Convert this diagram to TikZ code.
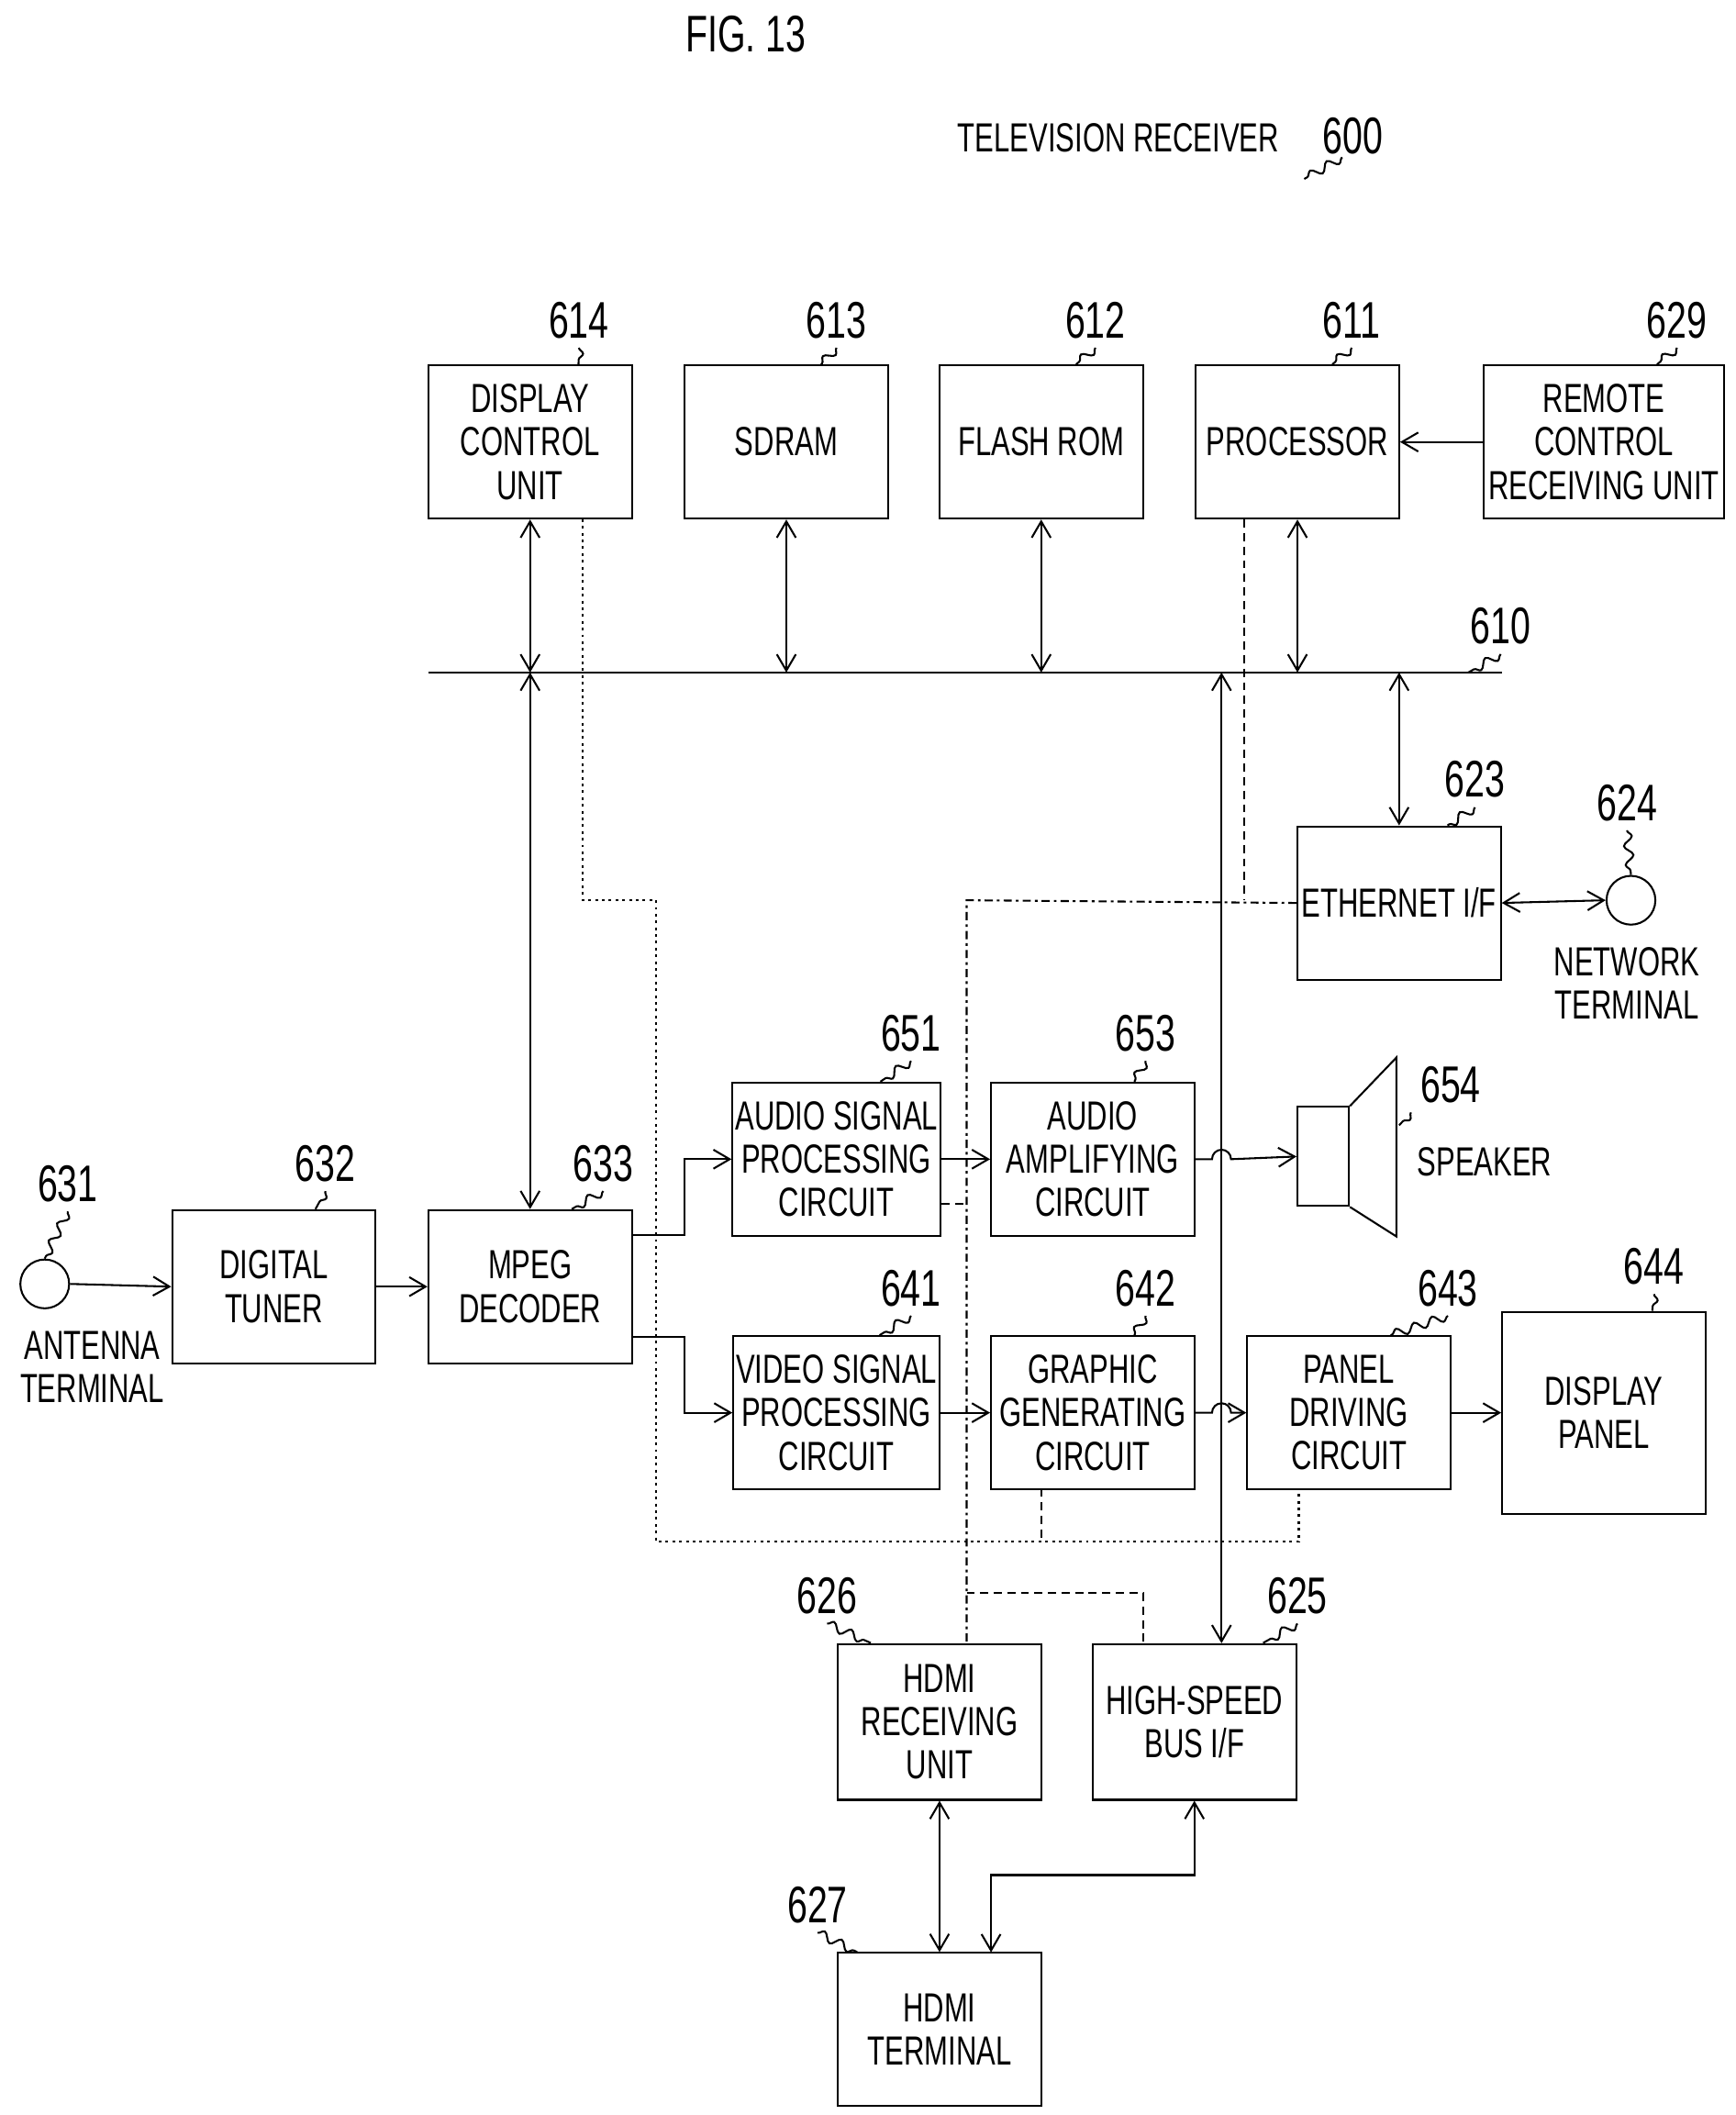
\documentclass[tikz,border=0pt]{standalone}
\usepackage{fontspec}
\setmainfont{Liberation Sans}[FakeStretch=0.7]
\usetikzlibrary{arrows.meta,decorations.pathmorphing,calc}
\begin{document}
\begin{tikzpicture}[x=0.5pt,y=-0.5pt,
  box/.style={draw,line width=0.7pt,minimum width=75pt,minimum height=56.5pt,align=center,inner sep=1pt,font=\fontsize{15}{16}\selectfont},
  num/.style={font=\fontsize{19}{19}\selectfont},
  lab/.style={font=\fontsize{15}{16}\selectfont,align=center},
  ln/.style={line width=0.7pt},
  arr/.style={ln,-{Straight Barb[length=6pt,width=7pt]}},
  darr/.style={ln,{Straight Barb[length=6pt,width=7pt]}-{Straight Barb[length=6pt,width=7pt]}},
  ctl/.style={ln,dashed,dash pattern=on 3pt off 2pt},
  dot/.style={ln,dash pattern=on 1pt off 1.5pt},
  dd/.style={ln,dash pattern=on 3pt off 1.5pt on 1pt off 1.5pt},
  sq/.style={ln,decorate,decoration={snake,amplitude=1.6pt,segment length=7pt}}]
\useasboundingbox (0,0) rectangle (1280,1560);
\node[num] (fig) at (550,25) {FIG. 13};
\node[lab] (tv) at (825,102) {TELEVISION RECEIVER};
\node[num] (n600) at (998,100) {600};
\coordinate (s600) at (962,132);
\draw[sq] (990,116) -- (s600);

% top row
\node[box] (b614) at (391,326) {DISPLAY\\CONTROL\\UNIT};
\node[box] (b613) at (580,326) {SDRAM};
\node[box] (b612) at (768,326) {FLASH ROM};
\node[box] (b611) at (957,326) {PROCESSOR};
\node[box,minimum width=88.5pt] (b629) at (1183,326) {REMOTE\\CONTROL\\RECEIVING UNIT};
\node[num] (n614) at (427,236) {614};
\node[num] (n613) at (617,236) {613};
\node[num] (n612) at (808,236) {612};
\node[num] (n611) at (997,236) {611};
\node[num] (n629) at (1237,236) {629};
\draw[sq] (n614.south) -- ($(b614.north east)+(-40,0)$);
\draw[sq] (n613.south) -- ($(b613.north east)+(-50,0)$);
\draw[sq] (n612.south) -- ($(b612.north east)+(-50,0)$);
\draw[sq] (n611.south) -- ($(b611.north east)+(-50,0)$);
\draw[sq] (n629.south) -- ($(b629.north east)+(-50,0)$);

% bus
\coordinate (busL) at (316,496);
\coordinate (busR) at (1108,496);
\draw[ln] (busL) -- (busR);
\node[num] (n610) at (1107,462) {610};
\draw[sq] (n610.south) -- ($(busR)+(-25,0)$);

\draw[darr] (b614.south) -- (b614.south |- busL);
\draw[darr] (b613.south) -- (b613.south |- busL);
\draw[darr] (b612.south) -- (b612.south |- busL);
\draw[darr] (b611.south) -- (b611.south |- busL);
\draw[arr] (b629.west) -- (b611.east);

% ethernet
\node[box] (b623) at (1032,666) {ETHERNET I/F};
\node[num] (n623) at (1088,575) {623};
\draw[sq] (n623.south) -- ($(b623.north east)+(-40,0)$);
\draw[darr] (b623.north) -- (b623.north |- busL);
\node[draw,circle,ln,minimum size=18pt,inner sep=0] (c624) at (1203,664) {};
\node[num] (n624) at (1200,592) {624};
\draw[sq] (n624.south) -- (c624.north);
\node[lab] (t624) at (1200,725) {NETWORK\\TERMINAL};
\draw[darr] (b623.east) -- (c624.west);

% speaker
\node[draw,ln,minimum width=19pt,minimum height=36.5pt,inner sep=0] (spk) at (976,853) {};
\coordinate (spk1) at (1030,780);
\coordinate (spk2) at (1030,912);
\draw[ln] (spk.north east) -- (spk1) -- (spk2) -- (spk.south east);
\node[num] (n654) at (1070,800) {654};
\draw[sq] (n654.south west) -- (1032,830);
\node[lab] (t654) at (1095,857) {SPEAKER};

% middle boxes
\node[box] (b651) at (617,855) {AUDIO SIGNAL\\PROCESSING\\CIRCUIT};
\node[box] (b653) at (806,855) {AUDIO\\AMPLIFYING\\CIRCUIT};
\node[box] (b641) at (617,1042) {VIDEO SIGNAL\\PROCESSING\\CIRCUIT};
\node[box] (b642) at (806,1042) {GRAPHIC\\GENERATING\\CIRCUIT};
\node[box] (b643) at (995,1042) {PANEL\\DRIVING\\CIRCUIT};
\node[box,minimum height=74.5pt] (b644) at (1183,1042) {DISPLAY\\PANEL};
\node[box] (b633) at (391,949) {MPEG\\DECODER};
\node[box] (b632) at (202,949) {DIGITAL\\TUNER};
\node[draw,circle,ln,minimum size=18pt,inner sep=0] (c631) at (33,947) {};
\node[lab] (t631) at (68,1008) {ANTENNA\\TERMINAL};
\node[num] (n631) at (50,873) {631};
\draw[sq] (n631.south) -- (c631.north);
\node[num] (n632) at (240,858) {632};
\node[num] (n633) at (445,858) {633};
\node[num] (n651) at (672,762) {651};
\node[num] (n653) at (845,762) {653};
\node[num] (n641) at (672,950) {641};
\node[num] (n642) at (845,950) {642};
\node[num] (n643) at (1068,950) {643};
\node[num] (n644) at (1220,934) {644};
\foreach \n/\b in {632/b632,633/b633,651/b651,653/b653,641/b641,642/b642,643/b643}
  \draw[sq] (n\n.south) -- ($(\b.north east)+(-45,0)$);
\draw[sq] (n644.south) -- ($(b644.north east)+(-40,0)$);

\draw[arr] (c631.east) -- (b632.west);
\draw[arr] (b632.east) -- (b633.west);
\draw[darr] (busL -| b633.north) -- (b633.north);
\coordinate (m1) at (505,911);
\coordinate (m2) at (505,986);
\draw[arr] (b633.east |- m1) -- (m1) |- (b651.west);
\draw[arr] (b633.east |- m2) -- (m2) |- (b641.west);
\draw[arr] (b651.east) -- (b653.west);
\draw[arr] (b641.east) -- (b642.west);
\draw[arr] (b653.east) -- (894,855) arc (180:360:7) -- (spk.west);
\draw[arr] (b642.east) -- (894,1042) arc (180:360:7) -- (b643.west);
\draw[arr] (b643.east) -- (b644.west);

% HDMI
\node[box,minimum height=57.5pt] (b626) at (693,1270) {HDMI\\RECEIVING\\UNIT};
\node[box,minimum height=57.5pt] (b625) at (881,1270) {HIGH-SPEED\\BUS I/F};
\node[box] (b627) at (693,1497) {HDMI\\TERMINAL};
\node[num] (n626) at (610,1177) {626};
\node[num] (n625) at (957,1177) {625};
\node[num] (n627) at (603,1405) {627};
\draw[sq] (n626.south) -- ($(b626.north west)+(25,0)$);
\draw[sq] (n625.south) -- ($(b625.north east)+(-25,0)$);
\draw[sq] (n627.south) -- ($(b627.north west)+(15,0)$);
\draw[darr] (901,496) -- (901,1212);
\draw[darr] (b626.south) -- (b627.north);
\draw[darr] (b625.south) -- (881,1383) -- (731,1383) -- (731,1440);

% control lines
\coordinate (e1) at (918,664);
\draw[ctl] (b611.south -| e1) -- (e1);
\draw[dd] (b623.west) -- (713,664) -- (713,1212);
\draw[ctl] (b651.east |- 0,888) -- (713,888);
\draw[ctl] (713,1175) -- (843,1175) -- (843,1212);
\draw[dot] (430,383) -- (430,664) -- (484,664) -- (484,1137) -- (958,1137) -- (958,1098);
\draw[ctl] (768,1098) -- (768,1137);
\end{tikzpicture}
\end{document}
